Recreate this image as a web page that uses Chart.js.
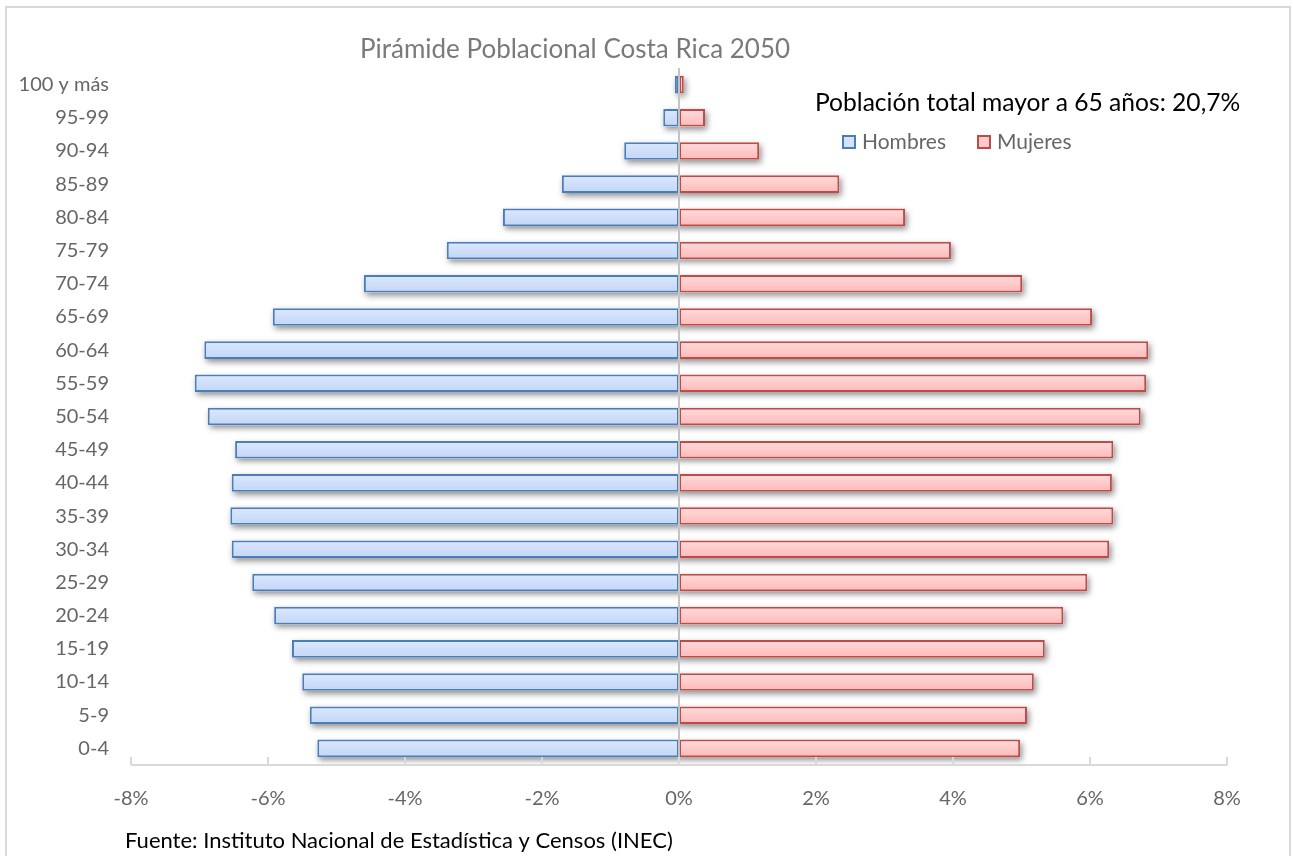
<!DOCTYPE html>
<html lang="es">
<head>
    <meta charset="UTF-8">
    <title>Pirámide Poblacional Costa Rica 2050</title>
    <script src="https://cdn.jsdelivr.net/npm/chart.js"></script>
    <style>
        html, body { margin: 0; padding: 0; background: #fff; overflow: hidden; }
        #wrap { width: 1293px; height: 856px; position: relative; }
    </style>
</head>
<body>
<div id="wrap">
    <canvas id="piramide" width="1293" height="856"></canvas>
</div>

<script>
    // grupos de edad, de arriba hacia abajo
    const grupos = ['100 y más', '95-99', '90-94', '85-89', '80-84', '75-79', '70-74', '65-69',
        '60-64', '55-59', '50-54', '45-49', '40-44', '35-39', '30-34', '25-29',
        '20-24', '15-19', '10-14', '5-9', '0-4'];

    // porcentaje de la población total (hombres en negativo)
    const hombres = [-0.06, -0.23, -0.80, -1.71, -2.57, -3.39, -4.60, -5.93,
        -6.93, -7.07, -6.88, -6.48, -6.53, -6.55, -6.53, -6.23,
        -5.91, -5.65, -5.50, -5.39, -5.28];
    const mujeres = [0.07, 0.38, 1.17, 2.34, 3.30, 3.97, 5.01, 6.03,
        6.85, 6.82, 6.74, 6.34, 6.32, 6.34, 6.28, 5.96,
        5.61, 5.34, 5.18, 5.08, 4.98];

    const titulo = 'Pirámide Poblacional Costa Rica 2050';
    const nota = 'Población total mayor a 65 años: 20,7%';
    const fuente = 'Fuente: Instituto Nacional de Estadística y Censos (INEC)';

    const FONT = 'Lato, "Open Sans", sans-serif';
    const GRIS = '#666666';

    // degradado vertical para cada barra
    function relleno(arriba, abajo) {
        return function (ctx) {
            const chart = ctx.chart;
            if (!chart.chartArea || ctx.type !== 'data') return abajo;
            const y = chart.scales.y.getPixelForValue(ctx.dataIndex);
            const g = chart.ctx.createLinearGradient(0, y - 9, 0, y + 9);
            g.addColorStop(0, arriba);
            g.addColorStop(1, abajo);
            return g;
        };
    }

    // sombra difusa bajo cada barra (el borde de la barra va recortado, así que se pinta aparte)
    const sombra = {
        id: 'sombra',
        beforeDatasetsDraw(chart) {
            const c = chart.ctx;
            c.save();
            c.shadowColor = 'rgba(0, 0, 0, 0.45)';
            c.shadowBlur = 6;
            c.shadowOffsetX = 2;
            c.shadowOffsetY = 3;
            c.fillStyle = '#ffffff';
            chart.data.datasets.forEach((ds, i) => {
                chart.getDatasetMeta(i).data.forEach(bar => {
                    const p = bar.getProps(['x', 'y', 'base', 'height'], true);
                    const izq = Math.min(p.x, p.base);
                    c.fillRect(izq, p.y - p.height / 2, Math.abs(p.x - p.base), p.height);
                });
            });
            c.restore();
        }
    };

    // marco, textos, leyenda, línea del cero y marcas del eje
    const decoracion = {
        id: 'decoracion',
        beforeDraw(chart) {
            const c = chart.ctx;
            c.save();
            c.strokeStyle = '#d9d9d9';
            c.lineWidth = 2;
            c.strokeRect(6, 7, 1284, 860);
            c.restore();
        },
        afterDatasetsDraw(chart) {
            const c = chart.ctx;
            const area = chart.chartArea;
            const x = chart.scales.x;
            c.save();

            // línea vertical en 0%
            const x0 = x.getPixelForValue(0);
            c.strokeStyle = '#c4c4c4';
            c.lineWidth = 2;
            c.beginPath();
            c.moveTo(x0, area.top);
            c.lineTo(x0, area.bottom);
            c.stroke();

            // eje horizontal con marcas hacia adentro
            c.strokeStyle = '#d9d9d9';
            c.beginPath();
            c.moveTo(x.getPixelForValue(x.min), area.bottom);
            c.lineTo(x.getPixelForValue(x.max), area.bottom);
            x.ticks.forEach(t => {
                const px = x.getPixelForValue(t.value);
                c.moveTo(px, area.bottom - 8);
                c.lineTo(px, area.bottom);
            });
            c.stroke();

            // título
            c.fillStyle = '#7a7a7a';
            c.font = '26px ' + FONT;
            c.textAlign = 'center';
            c.textBaseline = 'middle';
            c.fillText(titulo, 575, 50);

            // nota
            c.fillStyle = '#000';
            c.font = '24.6px ' + FONT;
            c.textAlign = 'left';
            c.fillText(nota, 815, 103);

            // leyenda
            let lx = 843;
            c.font = '21px ' + FONT;
            chart.data.datasets.forEach(ds => {
                c.fillStyle = ds.legendFill;
                c.fillRect(lx, 136, 12, 12);
                c.strokeStyle = ds.borderColor;
                c.lineWidth = 2;
                c.strokeRect(lx, 136, 12, 12);
                c.fillStyle = GRIS;
                c.fillText(ds.label, lx + 19, 142);
                lx += 135;
            });

            // fuente
            c.fillStyle = '#000';
            c.font = '22px ' + FONT;
            c.fillText(fuente, 125, 841);

            c.restore();
        }
    };

    const ctx = document.getElementById('piramide').getContext('2d');
    new Chart(ctx, {
        type: 'bar',
        data: {
            labels: grupos,
            datasets: [
                {
                    label: 'Hombres',
                    data: hombres,
                    backgroundColor: relleno('#dce8ff', '#c2d6f6'),
                    legendFill: '#d4e2fa',
                    borderColor: '#4a7ebb',
                    borderWidth: 2,
                    borderSkipped: false
                },
                {
                    label: 'Mujeres',
                    data: mujeres,
                    backgroundColor: relleno('#ffdcdc', '#ffb8b8'),
                    legendFill: '#ffcaca',
                    borderColor: '#be4b48',
                    borderWidth: 2,
                    borderSkipped: false
                }
            ]
        },
        options: {
            indexAxis: 'y',
            responsive: false,
            animation: false,
            devicePixelRatio: 1,
            categoryPercentage: 1,
            barPercentage: 0.53,
            layout: {
                padding: { top: 68, bottom: 23, left: 0, right: 66 }
            },
            plugins: {
                legend: { display: false },
                title: { display: false },
                tooltip: { enabled: false }
            },
            scales: {
                x: {
                    stacked: true,
                    min: -8,
                    max: 8,
                    grid: { display: false, drawTicks: false },
                    border: { display: false },
                    ticks: {
                        stepSize: 2,
                        padding: 22,
                        color: GRIS,
                        font: { family: FONT, size: 20 },
                        callback: v => v + '%'
                    }
                },
                y: {
                    stacked: true,
                    grid: { display: false, drawTicks: false },
                    border: { display: false },
                    afterFit(scale) { scale.width = 131; },
                    ticks: {
                        padding: 22,
                        color: GRIS,
                        font: { family: FONT, size: 20 }
                    }
                }
            }
        },
        plugins: [sombra, decoracion]
    });
</script>
</body>
</html>
